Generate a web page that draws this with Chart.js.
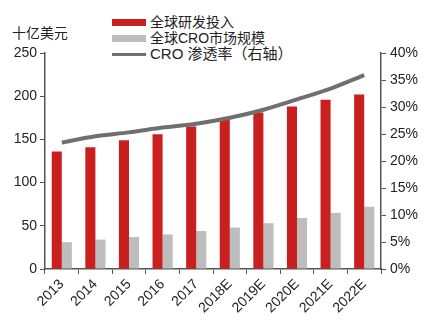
<!DOCTYPE html>
<html>
<head>
<meta charset="utf-8">
<script src="https://cdn.jsdelivr.net/npm/chart.js@4"></script>
<style>
    html, body { margin: 0; padding: 0; background: #fff; }
    #wrap { position: relative; width: 439px; height: 330px; }
    #unit {
        position: absolute; left: 12px; top: 22px;
        font: 14px "Noto Sans CJK SC", sans-serif; color: #222;
    }
    #legend {
        position: absolute; left: 112px; top: 14px;
        font: 14px "Liberation Sans", "Noto Sans CJK SC", sans-serif; color: #222;
        background: #fff; line-height: 16px;
    }
    #legend div { display: flex; align-items: center; height: 16px; }
    #legend span.box { display: inline-block; width: 34px; height: 7px; margin-right: 4px; }
    #legend span.line { display: inline-block; width: 34px; height: 3px; margin-right: 4px; }
    #legend .cro { font-size: 15px; }
</style>
</head>
<body>
<div id="wrap">
    <canvas id="chart" width="439" height="330"></canvas>
    <div id="unit">十亿美元</div>
    <div id="legend"></div>
</div>
<script>

const years = ["2013", "2014", "2015", "2016", "2017", "2018E", "2019E", "2020E", "2021E", "2022E"];

// 全球研发投入 (十亿美元)
const rdSpend = [136, 141, 149, 156, 165, 174, 181, 188, 196, 202];

// 全球CRO市场规模 (十亿美元)
const croMarket = [31, 34, 37, 40, 44, 48, 53, 59, 65, 72];

// CRO 渗透率 (%)
const croRate = [23.4, 24.6, 25.3, 26.2, 26.9, 28.0, 29.5, 31.4, 33.4, 35.9];

const leftTicks = [0, 50, 100, 150, 200, 250];
const rightTicks = [0, 5, 10, 15, 20, 25, 30, 35, 40];

const RED = "#c9201f";
const GREY = "#bdbdbd";
const LINE = "#6f6f6f";
const AXIS = "#555";

Chart.defaults.font.family = "'Liberation Sans', Arial, sans-serif";
Chart.defaults.font.size = 14;
Chart.defaults.color = "#222";

const canvas = document.getElementById("chart");

new Chart(canvas, {
    data: {
        labels: years,
        datasets: [
            {
                type: "line",
                label: "CRO 渗透率（右轴）",
                data: croRate,
                yAxisID: "yRight",
                borderColor: LINE,
                borderWidth: 4,
                pointRadius: 0,
                tension: 0.3,
                order: 0
            },
            {
                type: "bar",
                label: "全球研发投入",
                data: rdSpend,
                yAxisID: "yLeft",
                backgroundColor: RED,
                categoryPercentage: 0.6,
                barPercentage: 1,
                order: 1
            },
            {
                type: "bar",
                label: "全球CRO市场规模",
                data: croMarket,
                yAxisID: "yLeft",
                backgroundColor: GREY,
                categoryPercentage: 0.6,
                barPercentage: 1,
                order: 1
            }
        ]
    },
    options: {
        responsive: false,
        animation: false,
        layout: { padding: { top: 53, left: 0, right: 0, bottom: 0 } },
        plugins: {
            legend: { display: false },
            tooltip: { enabled: false }
        },
        scales: {
            x: {
                grid: { drawOnChartArea: false, color: AXIS, tickLength: 5 },
                border: { color: AXIS, width: 1.5 },
                ticks: { maxRotation: 45, minRotation: 45, padding: 2 },
                afterFit: (s) => { s.height = 61; }
            },
            yLeft: {
                position: "left",
                min: 0,
                max: 250,
                afterBuildTicks: (s) => { s.ticks = leftTicks.map(v => ({ value: v })); },
                grid: { drawOnChartArea: false, color: AXIS, tickLength: 5 },
                border: { color: AXIS, width: 1.5 },
                ticks: { padding: 3 },
                afterFit: (s) => { s.width = 45; }
            },
            yRight: {
                position: "right",
                min: 0,
                max: 40,
                afterBuildTicks: (s) => { s.ticks = rightTicks.map(v => ({ value: v })); },
                grid: { drawOnChartArea: false, color: AXIS, tickLength: 5 },
                border: { color: AXIS, width: 1.5 },
                ticks: { padding: 4, callback: (v) => v + "%" },
                afterFit: (s) => { s.width = 58; }
            }
        }
    }
});

// legend drawn as html, stacked like the original report
const legendItems = [
    { text: "全球研发投入", color: RED, kind: "box" },
    { text: "全球CRO市场规模", color: GREY, kind: "box" },
    { text: "CRO 渗透率（右轴）", color: LINE, kind: "line" }
];

document.getElementById("legend").innerHTML = legendItems.map(item =>
    `<div><span class="${item.kind}" style="background:${item.color}"></span><span class="${item.kind === "line" ? "cro" : ""}">${item.text}</span></div>`
).join("");

</script>
</body>
</html>
